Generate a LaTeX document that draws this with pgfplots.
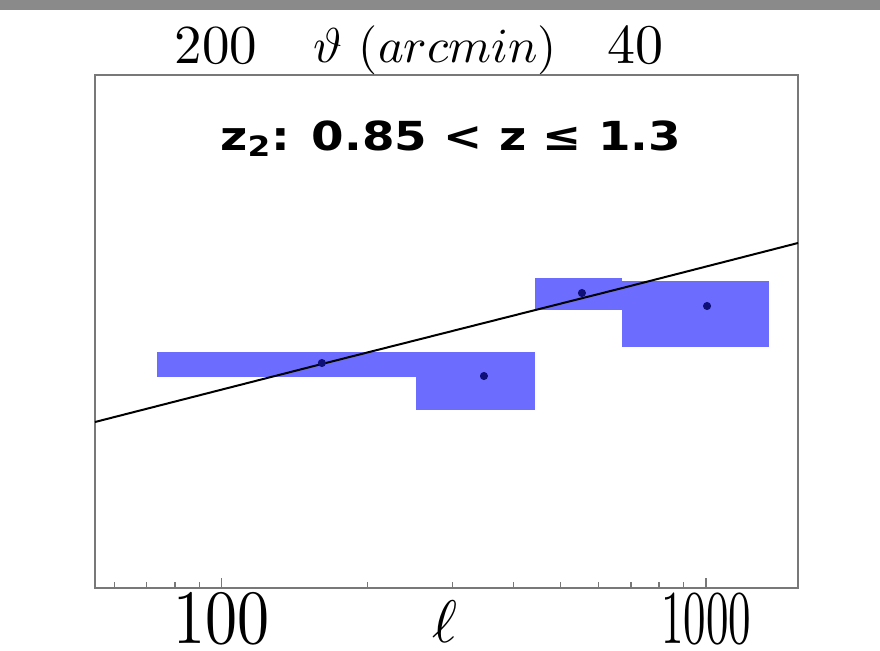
\documentclass[border=0pt]{standalone}
\usepackage{fontspec}
\usepackage{pgfplots}
\pgfplotsset{compat=1.18}
\newfontfamily\dejavu{DejaVu Sans}

\definecolor{binfill}{RGB}{108,108,255}
\definecolor{bindot}{RGB}{15,15,120}
\definecolor{framegray}{RGB}{120,120,120}
\definecolor{topbar}{RGB}{138,138,138}

\begin{document}
\begin{tikzpicture}
\begin{axis}[
  at={(0pt,0pt)}, anchor=south west,
  scale only axis, width=351.5pt, height=256.5pt,
  xmode=log, xmin=54.7, xmax=1549, ymin=0, ymax=5.13,
  axis line style={framegray, line width=1.1pt},
  xtick={100,1000}, xticklabels={{},{}}, ytick=\empty,
  minor xtick={60,70,80,90,200,300,400,500,600,700,800,900},
  tick pos=bottom,
  tick style={framegray, line width=0.6pt},
  major tick length=5pt, minor tick length=3pt,
  clip=false,
]
% bandpower bins: ell range x amplitude range
\addplot[fill=binfill, draw=none] coordinates {(73.4,2.11) (251.7,2.11) (251.7,2.36) (73.4,2.36)} -- cycle;
\addplot[fill=binfill, draw=none] coordinates {(251.7,1.78) (443.4,1.78) (443.4,2.36) (251.7,2.36)} -- cycle;
\addplot[fill=binfill, draw=none] coordinates {(443.4,2.78) (670.7,2.78) (670.7,3.10) (443.4,3.10)} -- cycle;
\addplot[fill=binfill, draw=none] coordinates {(670.7,2.41) (1349,2.41) (1349,3.07) (670.7,3.07)} -- cycle;

% model prediction
\addplot[black, line width=1pt] coordinates {(54.7,1.66) (160.9,2.24) (672,3.00) (1549,3.45)};

% measured bandpowers
\addplot[only marks, mark=*, mark size=1.8pt, bindot] coordinates {(160.9,2.25) (347.8,2.12) (554.3,2.95) (1005,2.82)};

% axis annotations
\node[anchor=base, inner sep=0pt] at (axis cs:100,-0.555) {\scalebox{3.2}[3.84]{100}};
\node[anchor=base, inner sep=0pt] at (axis cs:1000,-0.555) {\scalebox{2.25}[3.8]{1000}};
\node[anchor=base, inner sep=0pt] at (axis cs:289,-0.54) {\scalebox{3.0}{$\ell$}};
\node[anchor=base, inner sep=0pt] at (axis cs:97.2,5.25) {\scalebox{2.75}{200}};
\node[anchor=base, inner sep=0pt] at (axis cs:716,5.25) {\scalebox{2.8}{40}};
\node[anchor=base, inner sep=0pt] at (axis cs:276,5.26) {\scalebox{2.45}{$\vartheta\ (arcmin)$}};

\node[anchor=base, font=\dejavu\bfseries\fontsize{20}{24}\selectfont] at (axis cs:297,4.38) {\scalebox{1.17}[1]{z\textsubscript{2}: 0.85 < z ≤ 1.3}};
\end{axis}
\fill[topbar] (-47.5pt,289pt) rectangle (392.5pt,294pt);
\pgfresetboundingbox
\useasboundingbox (-47.5pt,-31pt) rectangle (392.5pt,294pt);
\end{tikzpicture}
\end{document}
